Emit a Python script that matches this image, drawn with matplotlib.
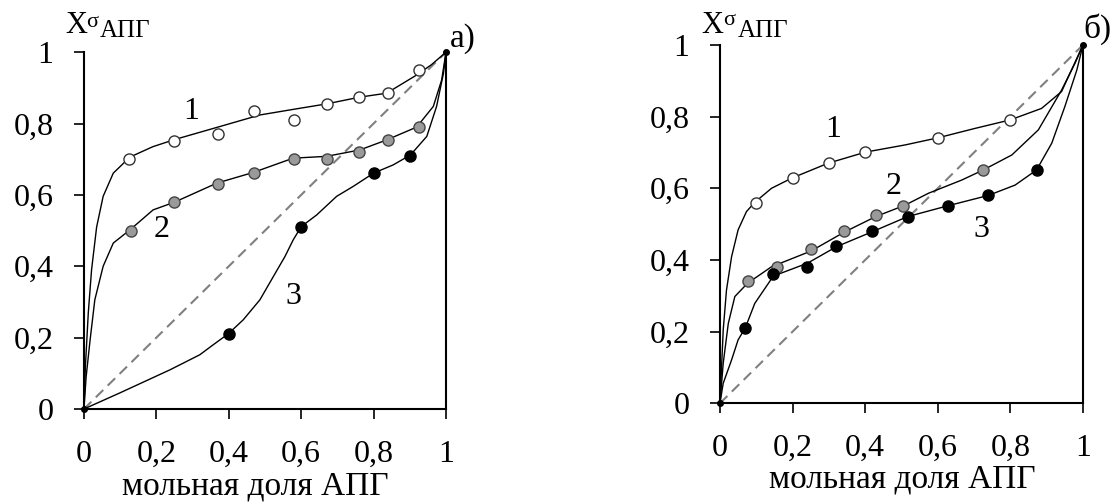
import matplotlib
matplotlib.use("Agg")
import matplotlib.pyplot as plt

plt.rcParams['font.family'] = ['Liberation Serif', 'DejaVu Serif']

# ---- panel а) ----
a_x1 = [0.125, 0.25, 0.37, 0.47, 0.58, 0.67, 0.76, 0.84, 0.925]
a_y1 = [0.70, 0.75, 0.77, 0.835, 0.81, 0.855, 0.875, 0.885, 0.95]
a_x2 = [0.13, 0.25, 0.37, 0.47, 0.58, 0.67, 0.76, 0.84, 0.925]
a_y2 = [0.50, 0.58, 0.63, 0.66, 0.70, 0.70, 0.72, 0.755, 0.79]
a_x3 = [0.40, 0.60, 0.80, 0.90]
a_y3 = [0.21, 0.51, 0.66, 0.71]

# fitted curves
a_fx1 = [0, 0.004, 0.012, 0.021, 0.035, 0.053, 0.081, 0.127, 0.19, 0.25, 0.37,
         0.486, 0.58, 0.67, 0.762, 0.836, 0.919, 0.96, 1.0]
a_fy1 = [0, 0.12, 0.27, 0.39, 0.51, 0.596, 0.661, 0.706, 0.735, 0.755, 0.79,
         0.824, 0.84, 0.855, 0.874, 0.885, 0.936, 0.965, 1.0]
a_fx2 = [0, 0.006, 0.017, 0.030, 0.053, 0.081, 0.127, 0.191, 0.251, 0.367, 0.468,
         0.578, 0.67, 0.762, 0.836, 0.919, 0.965, 0.988, 1.0]
a_fy2 = [0, 0.09, 0.194, 0.306, 0.40, 0.465, 0.502, 0.558, 0.58, 0.633, 0.663,
         0.703, 0.708, 0.726, 0.754, 0.79, 0.848, 0.922, 1.0]
a_fx3 = [0, 0.099, 0.238, 0.320, 0.357, 0.399, 0.440, 0.486, 0.523, 0.555, 0.578,
         0.600, 0.643, 0.698, 0.744, 0.80, 0.854, 0.902, 0.947, 0.974, 0.993, 1.0]
a_fy3 = [0, 0.045, 0.110, 0.152, 0.180, 0.211, 0.250, 0.306, 0.371, 0.427, 0.474,
         0.511, 0.544, 0.596, 0.624, 0.661, 0.684, 0.712, 0.764, 0.848, 0.941, 1.0]

# ---- panel б) ----
b_x1 = [0.10, 0.20, 0.30, 0.40, 0.60, 0.80]
b_y1 = [0.56, 0.63, 0.67, 0.70, 0.74, 0.79]
b_x2 = [0.076, 0.156, 0.251, 0.343, 0.429, 0.505, 0.725]
b_y2 = [0.34, 0.38, 0.43, 0.48, 0.525, 0.55, 0.65]
b_x3 = [0.07, 0.147, 0.241, 0.321, 0.42, 0.517, 0.627, 0.739, 0.872]
b_y3 = [0.21, 0.36, 0.38, 0.44, 0.48, 0.52, 0.55, 0.58, 0.65]

b_fx1 = [0, 0.009, 0.018, 0.032, 0.050, 0.073, 0.096, 0.142, 0.197, 0.298, 0.401,
         0.51, 0.601, 0.702, 0.80, 0.886, 0.941, 1.0]
b_fy1 = [0, 0.205, 0.316, 0.409, 0.484, 0.535, 0.561, 0.600, 0.628, 0.670, 0.701,
         0.721, 0.741, 0.767, 0.791, 0.823, 0.870, 1.0]
b_fx2 = [0, 0.009, 0.023, 0.041, 0.076, 0.142, 0.251, 0.343, 0.429, 0.51, 0.574,
         0.666, 0.725, 0.804, 0.877, 0.941, 0.978, 1.0]
b_fy2 = [0, 0.112, 0.223, 0.298, 0.335, 0.381, 0.425, 0.478, 0.521, 0.553, 0.586,
         0.623, 0.651, 0.693, 0.763, 0.874, 0.949, 1.0]
b_fx3 = [0, 0.009, 0.032, 0.050, 0.070, 0.096, 0.147, 0.241, 0.321, 0.420, 0.517,
         0.627, 0.739, 0.813, 0.872, 0.914, 0.950, 0.983, 1.0]
b_fy3 = [0, 0.056, 0.121, 0.177, 0.211, 0.279, 0.355, 0.391, 0.437, 0.479, 0.521,
         0.551, 0.580, 0.609, 0.651, 0.726, 0.828, 0.930, 1.0]

ticks = [0, 0.2, 0.4, 0.6, 0.8, 1]
tick_labels = ["0", "0,2", "0,4", "0,6", "0,8", "1"]
xlabel = "мольная доля АПГ"


def draw_panel(ax, pts, fits, num_pos, letter, letter_pos, ylab_pos, xlab_pos):
    ax.set_xlim(0, 1)
    ax.set_ylim(0, 1)
    ax.plot([0, 1], [0, 1], color='#808080', lw=1.5, dashes=(5, 3), zorder=1)
    for fx, fy in fits:
        ax.plot(fx, fy, color='black', lw=1.0, zorder=2, clip_on=False)
    faces = ['white', '#9a9a9a', 'black']
    edges = ['#333333', '#444444', 'black']
    for (px, py), fc, ec in zip(pts, faces, edges):
        ax.plot(px, py, 'o', ms=8, mfc=fc, mec=ec, mew=1.0, ls='none', zorder=3,
                clip_on=False)
    ax.plot([0, 1], [0, 1], 'o', ms=4, color='black', ls='none', zorder=4, clip_on=False)

    for s in ['left', 'bottom', 'right']:
        ax.spines[s].set_linewidth(1.5)
    ax.spines['top'].set_visible(False)
    ax.set_xticks(ticks)
    ax.set_xticklabels(tick_labels)
    ax.set_yticks(ticks)
    ax.set_yticklabels(tick_labels)
    ax.tick_params(direction='out', length=7, width=1.2, pad=15, labelsize=23,
                   right=False, top=False)

    for lab, (tx, ty) in zip(["1", "2", "3"], num_pos):
        ax.text(tx, ty, lab, fontsize=23, ha='center', va='center')

    ax.text(letter_pos[0], letter_pos[1], letter, fontsize=24, ha='left',
            va='baseline', clip_on=False)

    (xx, xy), (sx, sy), (ax_, ay) = ylab_pos
    ax.text(xx, xy, "X", fontsize=22, ha='left', va='baseline', clip_on=False)
    ax.text(sx, sy, "σ", fontsize=16, ha='left', va='baseline', clip_on=False)
    ax.text(ax_, ay, "АПГ", fontsize=18, ha='left', va='baseline', clip_on=False)

    ax.text(xlab_pos[0], xlab_pos[1], xlabel, fontsize=24, ha='center',
            va='baseline', clip_on=False)


fig = plt.figure(figsize=(11.15, 5.04), dpi=100)
ax1 = fig.add_axes([0.0753, 0.1885, 0.3247, 0.708])
ax2 = fig.add_axes([0.6457, 0.1998, 0.3256, 0.711])

draw_panel(ax1,
           [(a_x1, a_y1), (a_x2, a_y2), (a_x3, a_y3)],
           [(a_fx1, a_fy1), (a_fx2, a_fy2), (a_fx3, a_fy3)],
           [(0.297, 0.834), (0.215, 0.502), (0.578, 0.315)],
           "а)", (1.011, 1.016),
           [(-0.052, 1.054), (0.006, 1.071), (0.044, 1.043)],
           (0.472, -0.240))

draw_panel(ax2,
           [(b_x1, b_y1), (b_x2, b_y2), (b_x3, b_y3)],
           [(b_fx1, b_fy1), (b_fx2, b_fy2), (b_fx3, b_fy3)],
           [(0.312, 0.763), (0.477, 0.605), (0.721, 0.484)],
           "б)", (1.0, 1.020),
           [(-0.050, 1.033), (0.008, 1.056), (0.050, 1.022)],
           (0.501, -0.234))

fig.savefig("out.png", dpi=100)
